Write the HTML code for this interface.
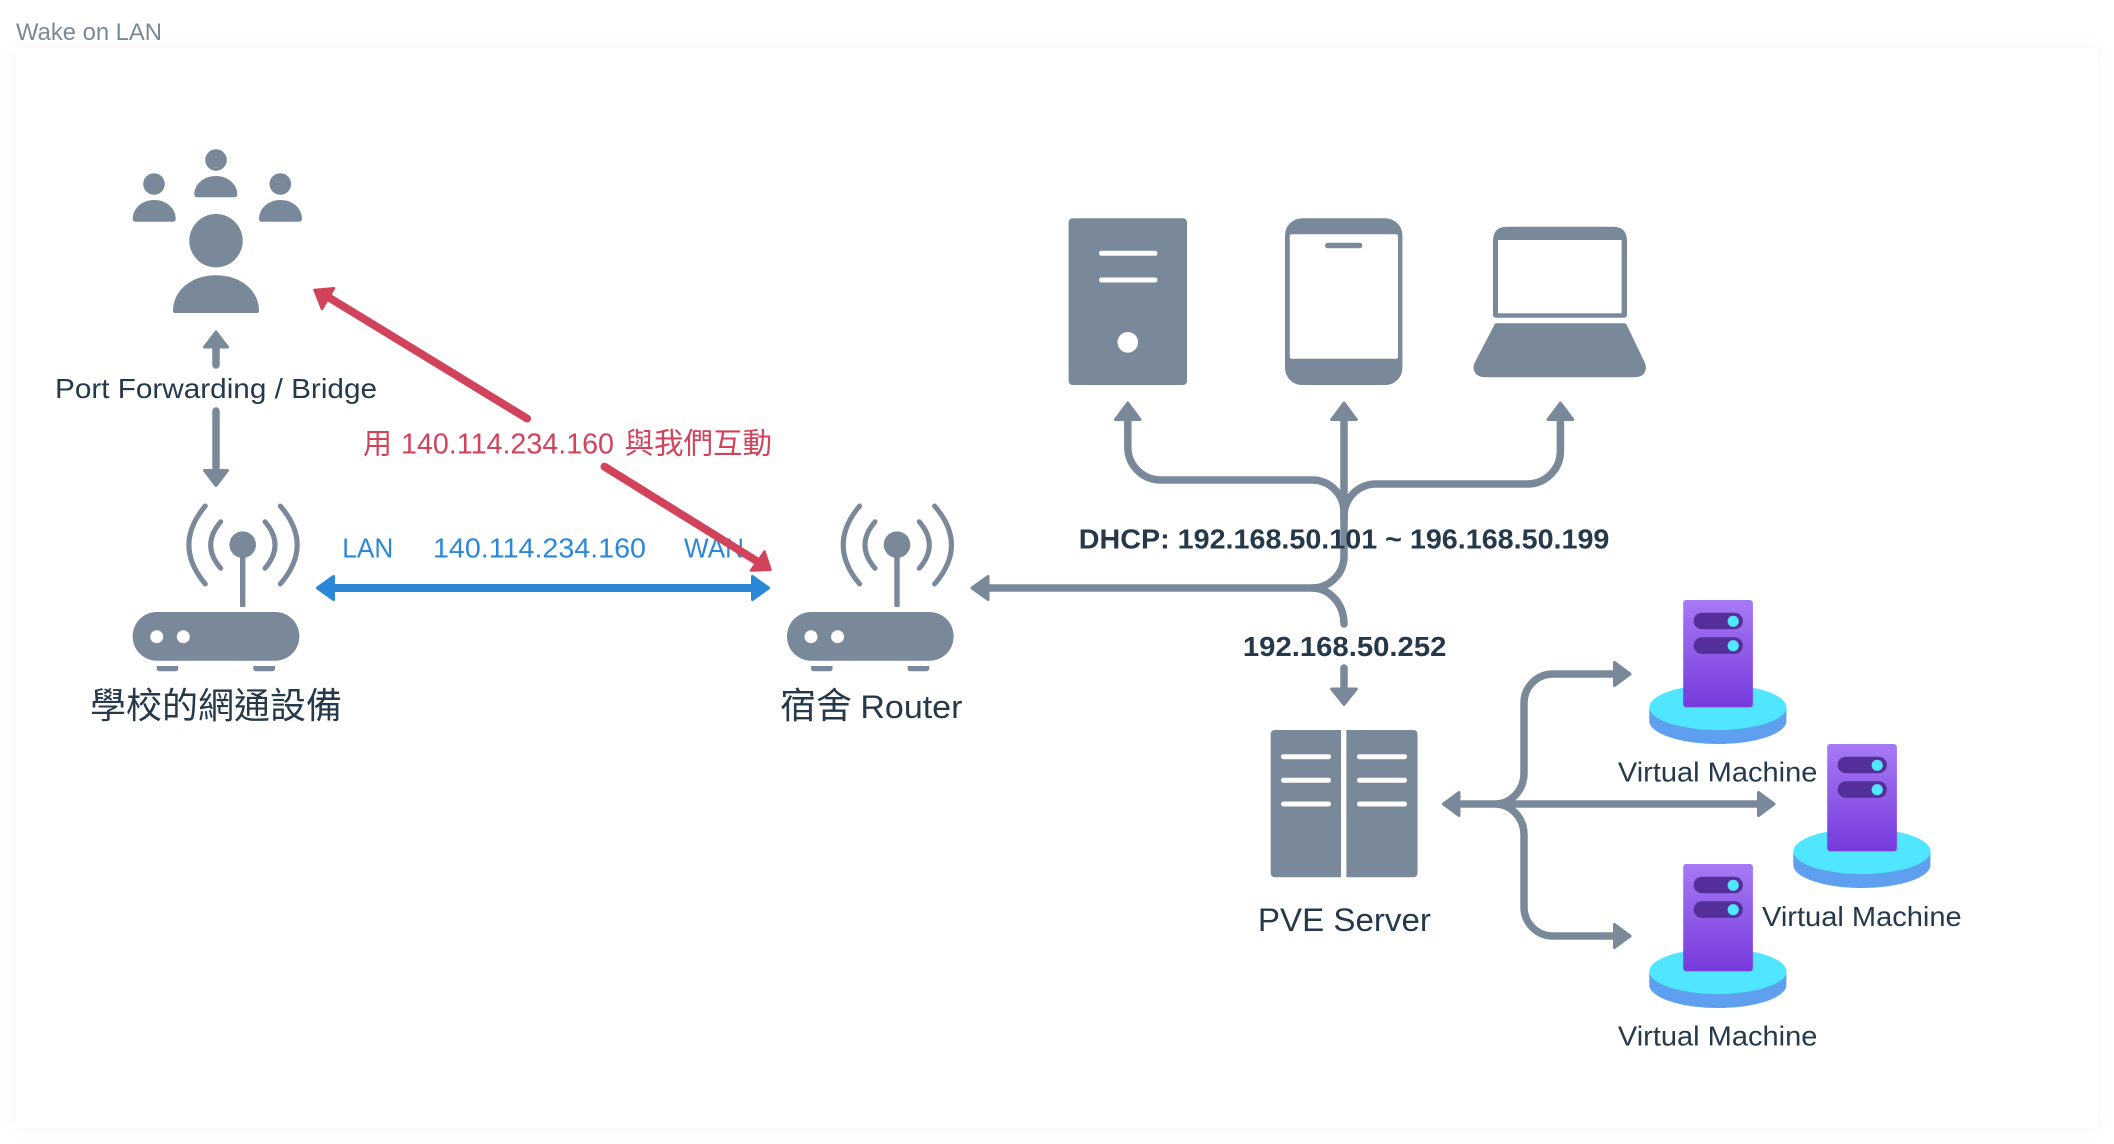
<!DOCTYPE html>
<html><head><meta charset="utf-8"><title>Wake on LAN</title>
<style>
html,body{margin:0;padding:0;background:#fff;width:2114px;height:1144px;overflow:hidden}
#card{position:absolute;left:16px;top:48px;width:2082px;height:1080px;background:#fff;box-shadow:0 0 18px rgba(0,0,0,.045)}
svg{position:absolute;left:0;top:0}
text{font-family:"Liberation Sans","Noto Sans CJK TC",sans-serif;fill:#26394b}
.g{fill:#7a8999}
.w{fill:#fff}
.ln{fill:none;stroke:#7a8999;stroke-width:7.5;stroke-linecap:round}
.rw{fill:none;stroke:#7a8999;stroke-width:5;stroke-linecap:round}
.hd{fill:#7a8999;stroke:#7a8999;stroke-width:3;stroke-linejoin:round}
.bl{fill:#2b88d8}
.rd{fill:#d1435b}
</style></head>
<body>
<div id="card"></div>
<svg width="2114" height="1144" viewBox="0 0 2114 1144" xmlns="http://www.w3.org/2000/svg">
<defs>
<linearGradient id="tw" x1="0" y1="0" x2="0" y2="1"><stop offset="0" stop-color="#a67af4"/><stop offset="1" stop-color="#773adc"/></linearGradient>
<g id="router">
  <circle class="g" cx="242.7" cy="544.7" r="13.3"/>
  <rect class="g" x="240" y="545" width="5.4" height="62" rx="1"/>
  <path class="rw" d="M220.7 521.7Q200.7 545 220.7 568.3M205.3 506Q172.500 545 205.3 584M265 521.700Q285 545 265 568.3M280.3 506Q314 545 280.3 584"/>
  <rect class="g" x="132.700" y="612" width="166.600" height="48.700" rx="24"/>
  <circle class="w" cx="156.700" cy="636.700" r="6.500"/><circle class="w" cx="183.300" cy="636.700" r="6.500"/>
  <path class="g" d="M156.700 666H178.300V668.300Q178.300 671.300 175.300 671.300H159.700Q156.700 671.300 156.700 668.300Z"/>
  <path class="g" d="M253.300 666H275V668.300Q275 671.300 272 671.300H256.300Q253.300 671.300 253.300 668.300Z"/>
</g>
<g id="vm">
  <path fill="#5ea0ef" d="M1649.300 707.300V721C1649.300 733.500 1680 744 1717.900 744S1786.400 733.500 1786.400 721V707.300Z"/>
  <ellipse fill="#50e6ff" cx="1717.900" cy="707.300" rx="68.600" ry="22.700"/>
  <rect fill="url(#tw)" x="1683.200" y="600" width="69.700" height="107.300" rx="3"/>
  <rect fill="#552f99" x="1693.600" y="612.700" width="49.300" height="16.600" rx="8.300"/>
  <rect fill="#552f99" x="1693.600" y="637.300" width="49.300" height="16.600" rx="8.300"/>
  <circle fill="#50e6ff" cx="1733.200" cy="621.300" r="5.600"/><circle fill="#50e6ff" cx="1733.200" cy="645.700" r="5.600"/>
</g>
</defs>

<text x="16" y="40" font-size="24" textLength="146" lengthAdjust="spacingAndGlyphs" style="fill:#7a8999">Wake on LAN</text>

<!-- people -->
<g class="g">
  <circle cx="216" cy="160" r="10.800"/><path d="M194.300 194.500C194.300 184 204 176 215.800 176S237.300 184 237.300 194.500Q237.300 197.300 234.500 197.300H197Q194.300 197.300 194.300 194.500Z"/>
  <circle cx="154" cy="184" r="10.800"/><path d="M132.700 219C132.700 208 142.300 200 154.200 200S175.700 208 175.700 219Q175.700 221.700 173 221.700H135.400Q132.700 221.700 132.700 219Z"/>
  <circle cx="280.300" cy="184" r="10.800"/><path d="M259 219C259 208 268.700 200 280.500 200S302 208 302 219Q302 221.700 299.300 221.700H261.700Q259 221.700 259 219Z"/>
  <circle cx="216" cy="240.700" r="26.700"/><path d="M173 311C173 290 192 275.300 216 275.300S259 290 259 311Q259 313 257 313H175Q173 313 173 311Z"/>
</g>

<path class="ln" d="M216 346V365M216 411V472"/>
<polygon class="hd" points="216,332 204.500,347 227.500,347"/>
<polygon class="hd" points="216,485.500 204.500,470.500 227.500,470.500"/>
<text x="55" y="398" font-size="28" textLength="322" lengthAdjust="spacingAndGlyphs">Port Forwarding / Bridge</text>

<use href="#router"/>
<use href="#router" x="654.300"/>
<text x="90" y="718" font-size="36">學校的網通設備</text>
<text x="780" y="718" font-size="36">宿舍</text>
<text x="860.400" y="718" font-size="32" textLength="102" lengthAdjust="spacingAndGlyphs">Router</text>

<!-- blue -->
<rect class="bl" x="330" y="584" width="425" height="8"/>
<polygon class="bl" stroke="#2b88d8" stroke-width="3" stroke-linejoin="round" points="317.500,588 333.500,576.500 333.500,599.500"/>
<polygon class="bl" stroke="#2b88d8" stroke-width="3" stroke-linejoin="round" points="768.500,588 752.500,576.500 752.500,599.500"/>
<g style="font-size:28px">
<text x="342.300" y="557.500" textLength="51" lengthAdjust="spacingAndGlyphs" style="fill:#2b88d8">LAN</text>
<text x="433" y="557.500" textLength="213" lengthAdjust="spacingAndGlyphs" style="fill:#2b88d8">140.114.234.160</text>
<text x="684" y="557.500" textLength="60" lengthAdjust="spacingAndGlyphs" style="fill:#2b88d8">WAN</text>
</g>

<!-- red -->
<path fill="none" stroke="#d1435b" stroke-width="8" stroke-linecap="round" d="M527 418.500L328 297M604.500 466.700L755 560"/>
<polygon class="rd" stroke="#d1435b" stroke-width="2.500" stroke-linejoin="round" points="314.500,290 334,288.300 322,309"/>
<polygon class="rd" stroke="#d1435b" stroke-width="2.500" stroke-linejoin="round" points="770.500,569.800 764.500,551.500 751,570.500"/>
<text x="363" y="453.500" font-size="29" style="fill:#d1435b">用</text>
<text x="401" y="453.500" font-size="29" textLength="213" lengthAdjust="spacingAndGlyphs" style="fill:#d1435b">140.114.234.160</text>
<text x="624.500" y="453.500" font-size="29.500" style="fill:#d1435b">與我們互動</text>

<!-- devices -->
<rect class="g" x="1068.600" y="218.300" width="118.400" height="166.700" rx="4"/>
<rect class="w" x="1099" y="250.800" width="58.500" height="5" rx="2.500"/>
<rect class="w" x="1099" y="277.500" width="58.500" height="5" rx="2.500"/>
<circle class="w" cx="1127.800" cy="342.300" r="10.300"/>

<rect class="g" x="1285" y="218.300" width="117.400" height="166.700" rx="17"/>
<rect class="w" x="1289.800" y="234.300" width="108.200" height="124.400" rx="2"/>
<rect class="g" x="1325" y="242.700" width="37.400" height="5.600" rx="2.800"/>

<path class="g" d="M1493 241Q1493 226.700 1507 226.700H1613Q1627 226.700 1627 241V315Q1627 317.700 1624 317.700H1496Q1493 317.700 1493 315Z"/>
<rect class="w" x="1498" y="240" width="123.600" height="73.300"/>
<path class="g" d="M1494 325.500Q1494.500 323.300 1497 323.300H1624Q1626 323.300 1627 325.500L1645 363Q1646 366 1646 368Q1645 377.300 1634 377.300H1486Q1474.500 377.300 1473.500 368Q1473.500 366 1474.500 363Z"/>

<!-- connectors upper -->
<path class="ln" d="M1127.800 418V447A33 33 0 0 0 1160.800 480H1312A32 32 0 0 1 1344 512V556A32 32 0 0 1 1312 588H985"/>
<path class="ln" d="M1560.400 418V451A33 33 0 0 1 1527.400 484H1376A32 32 0 0 0 1344 516"/>
<path class="ln" d="M1344 418V520M1312 588A32 36 0 0 1 1344 624M1344 668V690"/>
<polygon class="hd" points="1127.800,403 1115.500,419.500 1140,419.500"/>
<polygon class="hd" points="1344,403 1331.700,419.500 1356.300,419.500"/>
<polygon class="hd" points="1560.400,403 1548,419.500 1572.800,419.500"/>
<polygon class="hd" points="972,588 988,576.500 988,599.500"/>
<polygon class="hd" points="1344,704.500 1331.700,689 1356.300,689"/>

<text x="1078.800" y="548.300" font-size="28" font-weight="700" textLength="530.600" lengthAdjust="spacingAndGlyphs">DHCP: 192.168.50.101 ~ 196.168.50.199</text>
<text x="1242.900" y="656" font-size="28" font-weight="700" textLength="203.500" lengthAdjust="spacingAndGlyphs">192.168.50.252</text>

<!-- PVE -->
<rect class="g" x="1270.700" y="730" width="146.800" height="147.300" rx="4"/>
<rect class="w" x="1341" y="728" width="5.400" height="151"/>
<g class="w">
<rect x="1281" y="754.200" width="50" height="5" rx="2.500"/><rect x="1357" y="754.200" width="50" height="5" rx="2.500"/>
<rect x="1281" y="777.800" width="50" height="5" rx="2.500"/><rect x="1357" y="777.800" width="50" height="5" rx="2.500"/>
<rect x="1281" y="801.500" width="50" height="5" rx="2.500"/><rect x="1357" y="801.500" width="50" height="5" rx="2.500"/>
</g>
<text x="1257.900" y="931" font-size="32" textLength="173" lengthAdjust="spacingAndGlyphs">PVE Server</text>

<!-- VM connectors -->
<path class="ln" d="M1458 804H1760M1495 804A29 31 0 0 0 1524 773V703A29 29 0 0 1 1553 674H1616M1495 804A29 31 0 0 1 1524 835V907A29 29 0 0 0 1553 936H1616"/>
<polygon class="hd" points="1443.500,804 1459,792.500 1459,815.500"/>
<polygon class="hd" points="1774,804 1758.500,792.500 1758.500,815.500"/>
<polygon class="hd" points="1630,674 1614.500,662.500 1614.500,685.500"/>
<polygon class="hd" points="1630,936 1614.500,924.500 1614.500,947.500"/>

<use href="#vm"/>
<use href="#vm" x="144" y="144"/>
<use href="#vm" y="264"/>
<text x="1617.900" y="781.700" font-size="28" textLength="199.500" lengthAdjust="spacingAndGlyphs">Virtual Machine</text>
<text x="1762" y="926" font-size="28" textLength="199.700" lengthAdjust="spacingAndGlyphs">Virtual Machine</text>
<text x="1617.900" y="1045.700" font-size="28" textLength="199.500" lengthAdjust="spacingAndGlyphs">Virtual Machine</text>
</svg>
</body></html>
